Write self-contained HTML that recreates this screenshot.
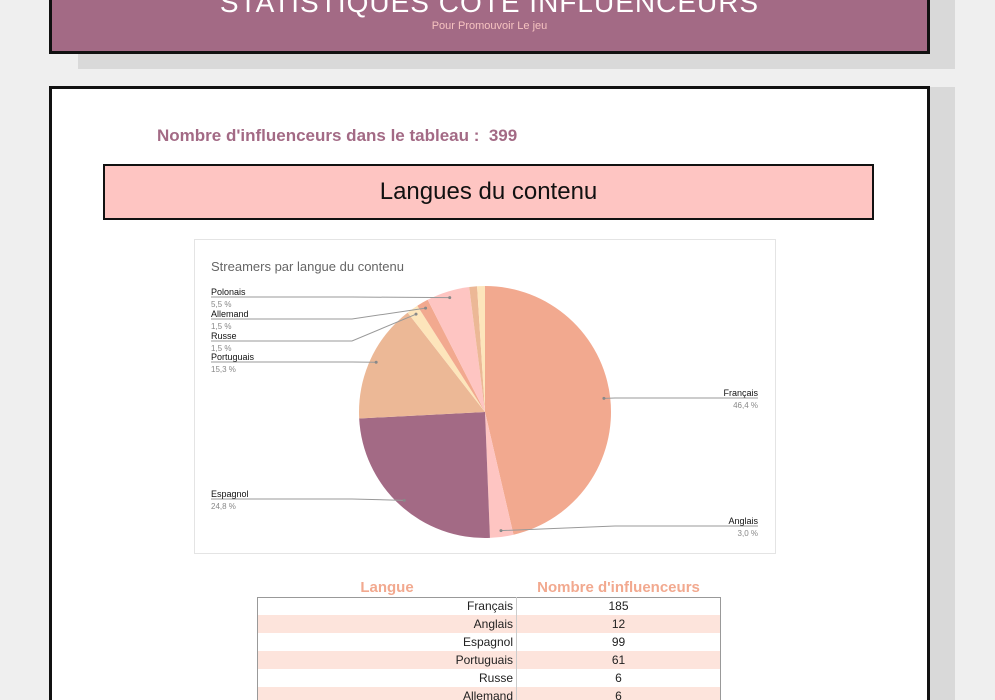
<!DOCTYPE html>
<html style="height:700px;overflow:hidden"><head><meta charset="utf-8"><style>
html,body{height:700px;overflow:hidden}
body{margin:0;width:995px;background:#efefef;font-family:"Liberation Sans",sans-serif;position:relative}
.abs{position:absolute}
td{padding:0}
</style></head><body>
<div class="abs" style="left:78px;top:0;width:877px;height:69px;background:#d9d9d9"></div>
<div class="abs" style="left:49px;top:-3px;width:875px;height:51px;background:#a36a85;border:3px solid #111;overflow:hidden">
 <div class="abs" style="left:0;right:0;top:-13px;text-align:center;color:#fff;font-size:28px;letter-spacing:1px">STATISTIQUES CÔTÉ INFLUENCEURS</div>
 <div class="abs" style="left:0;right:0;top:20px;text-align:center;color:#f6c3c0;font-size:11px">Pour Promouvoir Le jeu</div>
</div>
<div class="abs" style="left:930px;top:87px;width:25px;height:613px;background:#d9d9d9"></div>
<div class="abs" style="left:49px;top:86px;width:875px;height:614px;background:#fff;border:3px solid #111;border-bottom:none">
</div>
<div class="abs" style="left:157px;top:126px;color:#a36a85;font-size:17px;font-weight:bold">Nombre d'influenceurs dans le tableau :&nbsp; 399</div>
<div class="abs" style="left:103px;top:164px;width:767px;height:52px;background:#fec5c2;border:2px solid #111;text-align:center;line-height:52px;font-size:24px;color:#111">Langues du contenu</div>
<div class="abs" style="left:194px;top:239px;width:580px;height:313px;border:1px solid #e4e4e4;background:#fff"></div>
<svg class="abs" style="left:0;top:0" width="995" height="700" id="chart">
 <text x="211" y="271" font-size="13" fill="#666" font-family="Liberation Sans">Streamers par langue du contenu</text>
</svg>
<table class="abs" style="left:257px;top:578px;width:464px;border-collapse:collapse;font-size:12px;color:#222">
 <tr style="height:19px;color:#f2a98f;font-size:15px;font-weight:bold"><td style="width:259px;text-align:center">Langue</td><td style="text-align:center">Nombre d'influenceurs</td></tr>
 <tbody id="tb" style="border:1px solid #999"></tbody>
</table>
<script>
const categories=["Français","Anglais","Espagnol","Portuguais","Russe","Allemand","Polonais","Autre A","Autre B"];
const values=[185,12,99,61,6,6,22,4,4];
const tableLangs=["Français","Anglais","Espagnol","Portuguais","Russe","Allemand"];
const tableVals=[185,12,99,61,6,6];
const colors=["#f2a98f","#fec5c2","#a36a85","#ecb896","#fde5bb","#f2a98f","#fec5c2","#ecb896","#fde5bb"];
const showLabel=[1,1,1,1,1,1,1,0,0];
const NS="http://www.w3.org/2000/svg";
const svg=document.getElementById('chart');
const cx=485,cy=412,r=126;
const total=values.reduce((a,b)=>a+b,0);
function pt(a,rr){return [cx+rr*Math.sin(a),cy-rr*Math.cos(a)];}
let acc=0;
const leftY={"Polonais":297,"Allemand":319,"Russe":341,"Portuguais":362,"Espagnol":499};
const rightY={"Français":398,"Anglais":526};
values.forEach((v,i)=>{
 const a0=acc/total*2*Math.PI;acc+=v;const a1=acc/total*2*Math.PI;
 const p0=pt(a0,r),p1=pt(a1,r);
 const path=document.createElementNS(NS,'path');
 path.setAttribute('d',`M${cx},${cy}L${p0[0]},${p0[1]}A${r},${r} 0 ${a1-a0>Math.PI?1:0} 1 ${p1[0]},${p1[1]}Z`);
 path.setAttribute('fill',colors[i]);
 
 
 svg.appendChild(path);
 if(!showLabel[i])return;
 const am=(a0+a1)/2;const m=pt(am,r*0.95);
 const name=categories[i];const pct=(v/total*100).toFixed(1).replace('.',',')+' %';
 const right=am<Math.PI;
 const ly=right?rightY[name]:leftY[name];
 const ex=right?758:211;
 const bx=right?615:352;
 const line=document.createElementNS(NS,'polyline');
 line.setAttribute('points',`${m[0]},${m[1]} ${bx},${ly} ${ex},${ly}`);
 line.setAttribute('fill','none');line.setAttribute('stroke','#999');line.setAttribute('stroke-width','1');
 
 
 svg.appendChild(line);
 const dot=document.createElementNS(NS,'circle');dot.setAttribute('cx',m[0]);dot.setAttribute('cy',m[1]);dot.setAttribute('r',1.5);dot.setAttribute('fill','#888');
 
 
 svg.appendChild(dot);
 const t=document.createElementNS(NS,'text');t.textContent=name;t.setAttribute('x',ex);t.setAttribute('y',ly-2);
 t.setAttribute('font-size','9');t.setAttribute('fill','#111');t.setAttribute('text-anchor',right?'end':'start');t.setAttribute('font-family','Liberation Sans');
 
 
 svg.appendChild(t);
 const t2=document.createElementNS(NS,'text');t2.textContent=pct;t2.setAttribute('x',ex);t2.setAttribute('y',ly+10);
 t2.setAttribute('font-size','8');t2.setAttribute('fill','#888');t2.setAttribute('text-anchor',right?'end':'start');t2.setAttribute('font-family','Liberation Sans');
 
 
 svg.appendChild(t2);
});
const tb=document.getElementById('tb');
tableLangs.forEach((l,i)=>{
 const tr=document.createElement('tr');tr.style.height='18px';tr.style.background=i%2?'#fde4dc':'#fff';
 
 
 tr.innerHTML=`<td style="text-align:right;padding-right:3px;border-right:1px solid #ccc">${l}</td><td style="text-align:center">${tableVals[i]}</td>`;
 tb.appendChild(tr);
});
</script>
</body></html>
